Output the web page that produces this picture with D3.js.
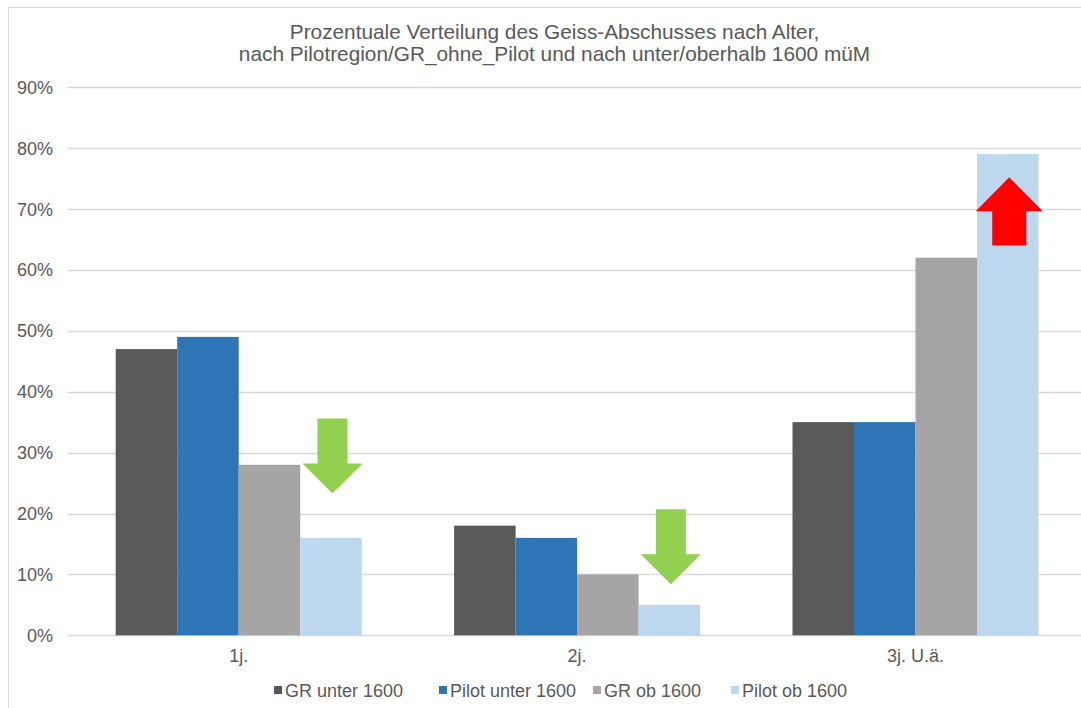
<!DOCTYPE html>
<html>
<head>
<meta charset="utf-8">
<script src="https://cdn.jsdelivr.net/npm/d3@7/dist/d3.min.js"></script>
<style>
  body { margin: 0; background: #fff; }
  text { font-family: "Liberation Sans", Arial, sans-serif; fill: #595959; }
</style>
</head>
<body>
<div id="chart"></div>
<script>
// data
var categories = ["1j.", "2j.", "3j. U.ä."];
var seriesNames = ["GR unter 1600", "Pilot unter 1600", "GR ob 1600", "Pilot ob 1600"];
var grUnter = [0.47, 0.18, 0.35];
var pilotUnter = [0.49, 0.16, 0.35];
var grOb = [0.28, 0.10, 0.62];
var pilotOb = [0.16, 0.05, 0.79];
var yTicks = [0, 0.1, 0.2, 0.3, 0.4, 0.5, 0.6, 0.7, 0.8, 0.9];
var titleLines = ["Prozentuale Verteilung des Geiss-Abschusses nach Alter,",
                  "nach Pilotregion/GR_ohne_Pilot und nach unter/oberhalb 1600 müM"];
// annotation arrows: category, start value, tip value
var arrowCats = ["1j.", "2j.", "3j. U.ä."];
var arrowFrom = [0.356, 0.207, 0.640];
var arrowTo = [0.233, 0.084, 0.752];

var colors = ["#595959", "#2E75B6", "#A5A5A5", "#BDD7EE"];
var arrowColors = ["#92D050", "#92D050", "#FF0000"];

var W = 1081, H = 708;
var svg = d3.select("#chart").append("svg")
    .attr("width", W).attr("height", H);

// outer chart border (runs off the right/bottom edge)
svg.append("rect")
    .attr("x", 8.5).attr("y", 7.5)
    .attr("width", W + 20).attr("height", H + 20)
    .attr("fill", "none").attr("stroke", "#D9D9D9");

var values = [grUnter, pilotUnter, grOb, pilotOb];
var rows = categories.map(function (c, i) {
    return { cat: c, vals: values.map(function (s) { return s[i]; }) };
});

var yScale = d3.scaleLinear().domain([0, 0.9]).range([635.3, 87.2]);
var x0 = d3.scaleBand().domain(categories).range([69.5, 1084.7]);
var pad = 46.2;
var x1 = d3.scaleBand().domain(d3.range(seriesNames.length))
    .range([pad, x0.bandwidth() - pad]);

// gridlines
svg.append("g").selectAll("line")
    .data(yTicks).enter().append("line")
    .attr("x1", 68).attr("x2", W)
    .attr("y1", function (d) { return Math.round(yScale(d)) + 0.5; })
    .attr("y2", function (d) { return Math.round(yScale(d)) + 0.5; })
    .attr("stroke", "#D9D9D9").attr("stroke-width", 1.3);

// y labels
svg.append("g").selectAll("text")
    .data(yTicks).enter().append("text")
    .attr("x", 53)
    .attr("y", function (d) { return yScale(d) + 6.5; })
    .attr("text-anchor", "end")
    .style("font-size", "18px")
    .text(d3.format(".0%"));

// bars
var groups = svg.selectAll(".category")
    .data(rows).enter().append("g")
    .attr("class", "category")
    .attr("transform", function (d) { return "translate(" + x0(d.cat) + ",0)"; });

groups.selectAll("rect")
    .data(function (d) { return d.vals; })
    .enter().append("rect")
    .attr("x", function (d, i) { return x1(i); })
    .attr("width", x1.bandwidth())
    .attr("y", function (d) { return yScale(d); })
    .attr("height", function (d) { return yScale(0) - yScale(d); })
    .attr("fill", function (d, i) { return colors[i]; });

// category labels
svg.append("g").selectAll("text")
    .data(categories).enter().append("text")
    .attr("x", function (d) { return x0(d) + x0.bandwidth() / 2; })
    .attr("y", 661.5)
    .attr("text-anchor", "middle")
    .style("font-size", "18px")
    .text(function (d) { return d; });

// title
svg.append("g").selectAll("text")
    .data(titleLines).enter().append("text")
    .attr("x", 554.5)
    .attr("y", function (d, i) { return 38.5 + i * 22.5; })
    .attr("text-anchor", "middle")
    .style("font-size", "20.8px")
    .text(function (d) { return d; });

// arrows on the "Pilot ob 1600" bars
function arrowPath(cx, yFrom, yTo, shaftW, headW, headL) {
    var dir = yTo > yFrom ? 1 : -1;
    var yb = yTo - dir * headL;
    return "M" + (cx - shaftW / 2) + "," + yFrom +
        "L" + (cx + shaftW / 2) + "," + yFrom +
        "L" + (cx + shaftW / 2) + "," + yb +
        "L" + (cx + headW / 2) + "," + yb +
        "L" + cx + "," + yTo +
        "L" + (cx - headW / 2) + "," + yb +
        "L" + (cx - shaftW / 2) + "," + yb + "Z";
}

svg.append("g").selectAll("path")
    .data(arrowCats).enter().append("path")
    .attr("d", function (c, i) {
        var cx = x0(c) + x1(3) + x1.bandwidth() / 2 + 1.5;
        var up = arrowTo[i] > arrowFrom[i];
        return arrowPath(cx, yScale(arrowFrom[i]), yScale(arrowTo[i]),
            up ? 34 : 30, up ? 67 : 60, up ? 34 : 30);
    })
    .attr("fill", function (c, i) { return arrowColors[i]; });

// legend
var legendX = [274, 439, 593, 731];
var legend = svg.append("g").selectAll("g")
    .data(seriesNames).enter().append("g")
    .attr("transform", function (d, i) { return "translate(" + legendX[i] + ",690)"; });

legend.append("rect")
    .attr("x", 0).attr("y", -4)
    .attr("width", 8).attr("height", 8)
    .attr("fill", function (d, i) { return colors[i]; });

legend.append("text")
    .attr("x", 11).attr("y", 6.5)
    .style("font-size", "18px")
    .text(function (d) { return d; });
</script>
</body>
</html>
